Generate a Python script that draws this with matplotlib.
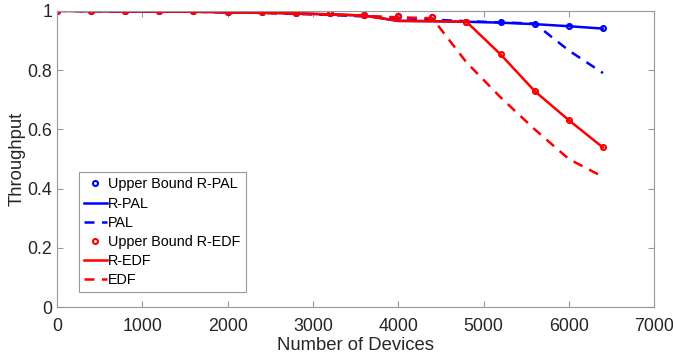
import numpy as np
import matplotlib
matplotlib.use('Agg')
import matplotlib.pyplot as plt

plt.rcParams['font.family'] = ['Liberation Sans', 'DejaVu Sans']

# number of devices
devices = [0, 400, 800, 1200, 1600, 2000, 2400, 2800, 3200, 3600, 4000,
           4400, 4800, 5200, 5600, 6000, 6400]

# throughput curves
ub_rpal = [1.0, 0.999, 0.999, 0.998, 0.998, 0.997, 0.995, 0.993, 0.991, 0.985, 0.982,
           0.978, 0.963, 0.961, 0.957, 0.948, 0.941]
rpal = [1.0, 0.999, 0.998, 0.998, 0.997, 0.995, 0.994, 0.991, 0.988, 0.984, 0.966,
        0.965, 0.963, 0.960, 0.955, 0.948, 0.940]
pal = [1.0, 0.999, 0.998, 0.998, 0.997, 0.995, 0.993, 0.99, 0.986, 0.981, 0.976,
       0.970, 0.965, 0.961, 0.957, 0.866, 0.790]
ub_redf = [1.0, 0.999, 0.999, 0.998, 0.998, 0.997, 0.995, 0.993, 0.991, 0.985, 0.982,
           0.978, 0.963, 0.853, 0.729, 0.631, 0.539]
redf = [1.0, 0.999, 0.998, 0.998, 0.997, 0.995, 0.994, 0.991, 0.988, 0.984, 0.966,
        0.965, 0.963, 0.853, 0.729, 0.631, 0.539]
edf = [1.0, 0.999, 0.998, 0.998, 0.997, 0.995, 0.993, 0.99, 0.987, 0.983, 0.978,
       0.975, 0.826, 0.708, 0.600, 0.500, 0.440]

fig = plt.figure(figsize=(6.73, 3.6), dpi=100)
ax = fig.add_axes([0.0847, 0.1464, 0.8873, 0.8236])

blue = '#0000ff'
red = '#ff0000'
ax.plot(devices, ub_rpal, 'o', color=blue, mfc='none', ms=3.6, mew=1.5, label='Upper Bound R-PAL')
ax.plot(devices, rpal, '-', color=blue, lw=1.8, label='R-PAL')
ax.plot(devices, pal, '--', color=blue, lw=1.8, dashes=(4, 3), label='PAL')
ax.plot(devices, ub_redf, 'o', color=red, mfc='none', ms=3.6, mew=1.5, label='Upper Bound R-EDF')
ax.plot(devices, redf, '-', color=red, lw=1.8, label='R-EDF')
ax.plot(devices, edf, '--', color=red, lw=1.8, dashes=(4, 3), label='EDF')

ax.set_xlim(0, 7000)
ax.set_ylim(0, 1)
ax.set_xticks(np.arange(0, 7001, 1000))
ax.set_yticks([0, 0.2, 0.4, 0.6, 0.8, 1])
ax.set_yticklabels(['0', '0.2', '0.4', '0.6', '0.8', '1'])
ax.tick_params(direction='in', length=4, color='#999999', labelsize=12.8, labelcolor='#262626')
ax.tick_params(axis='x', pad=8)
ax.tick_params(top=True, right=True)
for s in ax.spines.values():
    s.set_color('#999999')
    s.set_linewidth(0.8)

ax.set_xlabel('Number of Devices', fontsize=13.3, color='#262626', labelpad=1)
ax.set_ylabel('Throughput', fontsize=13.3, color='#262626', labelpad=1)

leg = ax.legend(loc='lower left', bbox_to_anchor=(0.036, 0.05), fontsize=10.4,
                handlelength=1.6, handletextpad=0.1, borderpad=0.35, labelspacing=0.36,
                fancybox=False, framealpha=1, borderaxespad=0)
leg.get_frame().set_edgecolor('#999999')
leg.get_frame().set_linewidth(0.8)

fig.savefig('out.png', dpi=100)
